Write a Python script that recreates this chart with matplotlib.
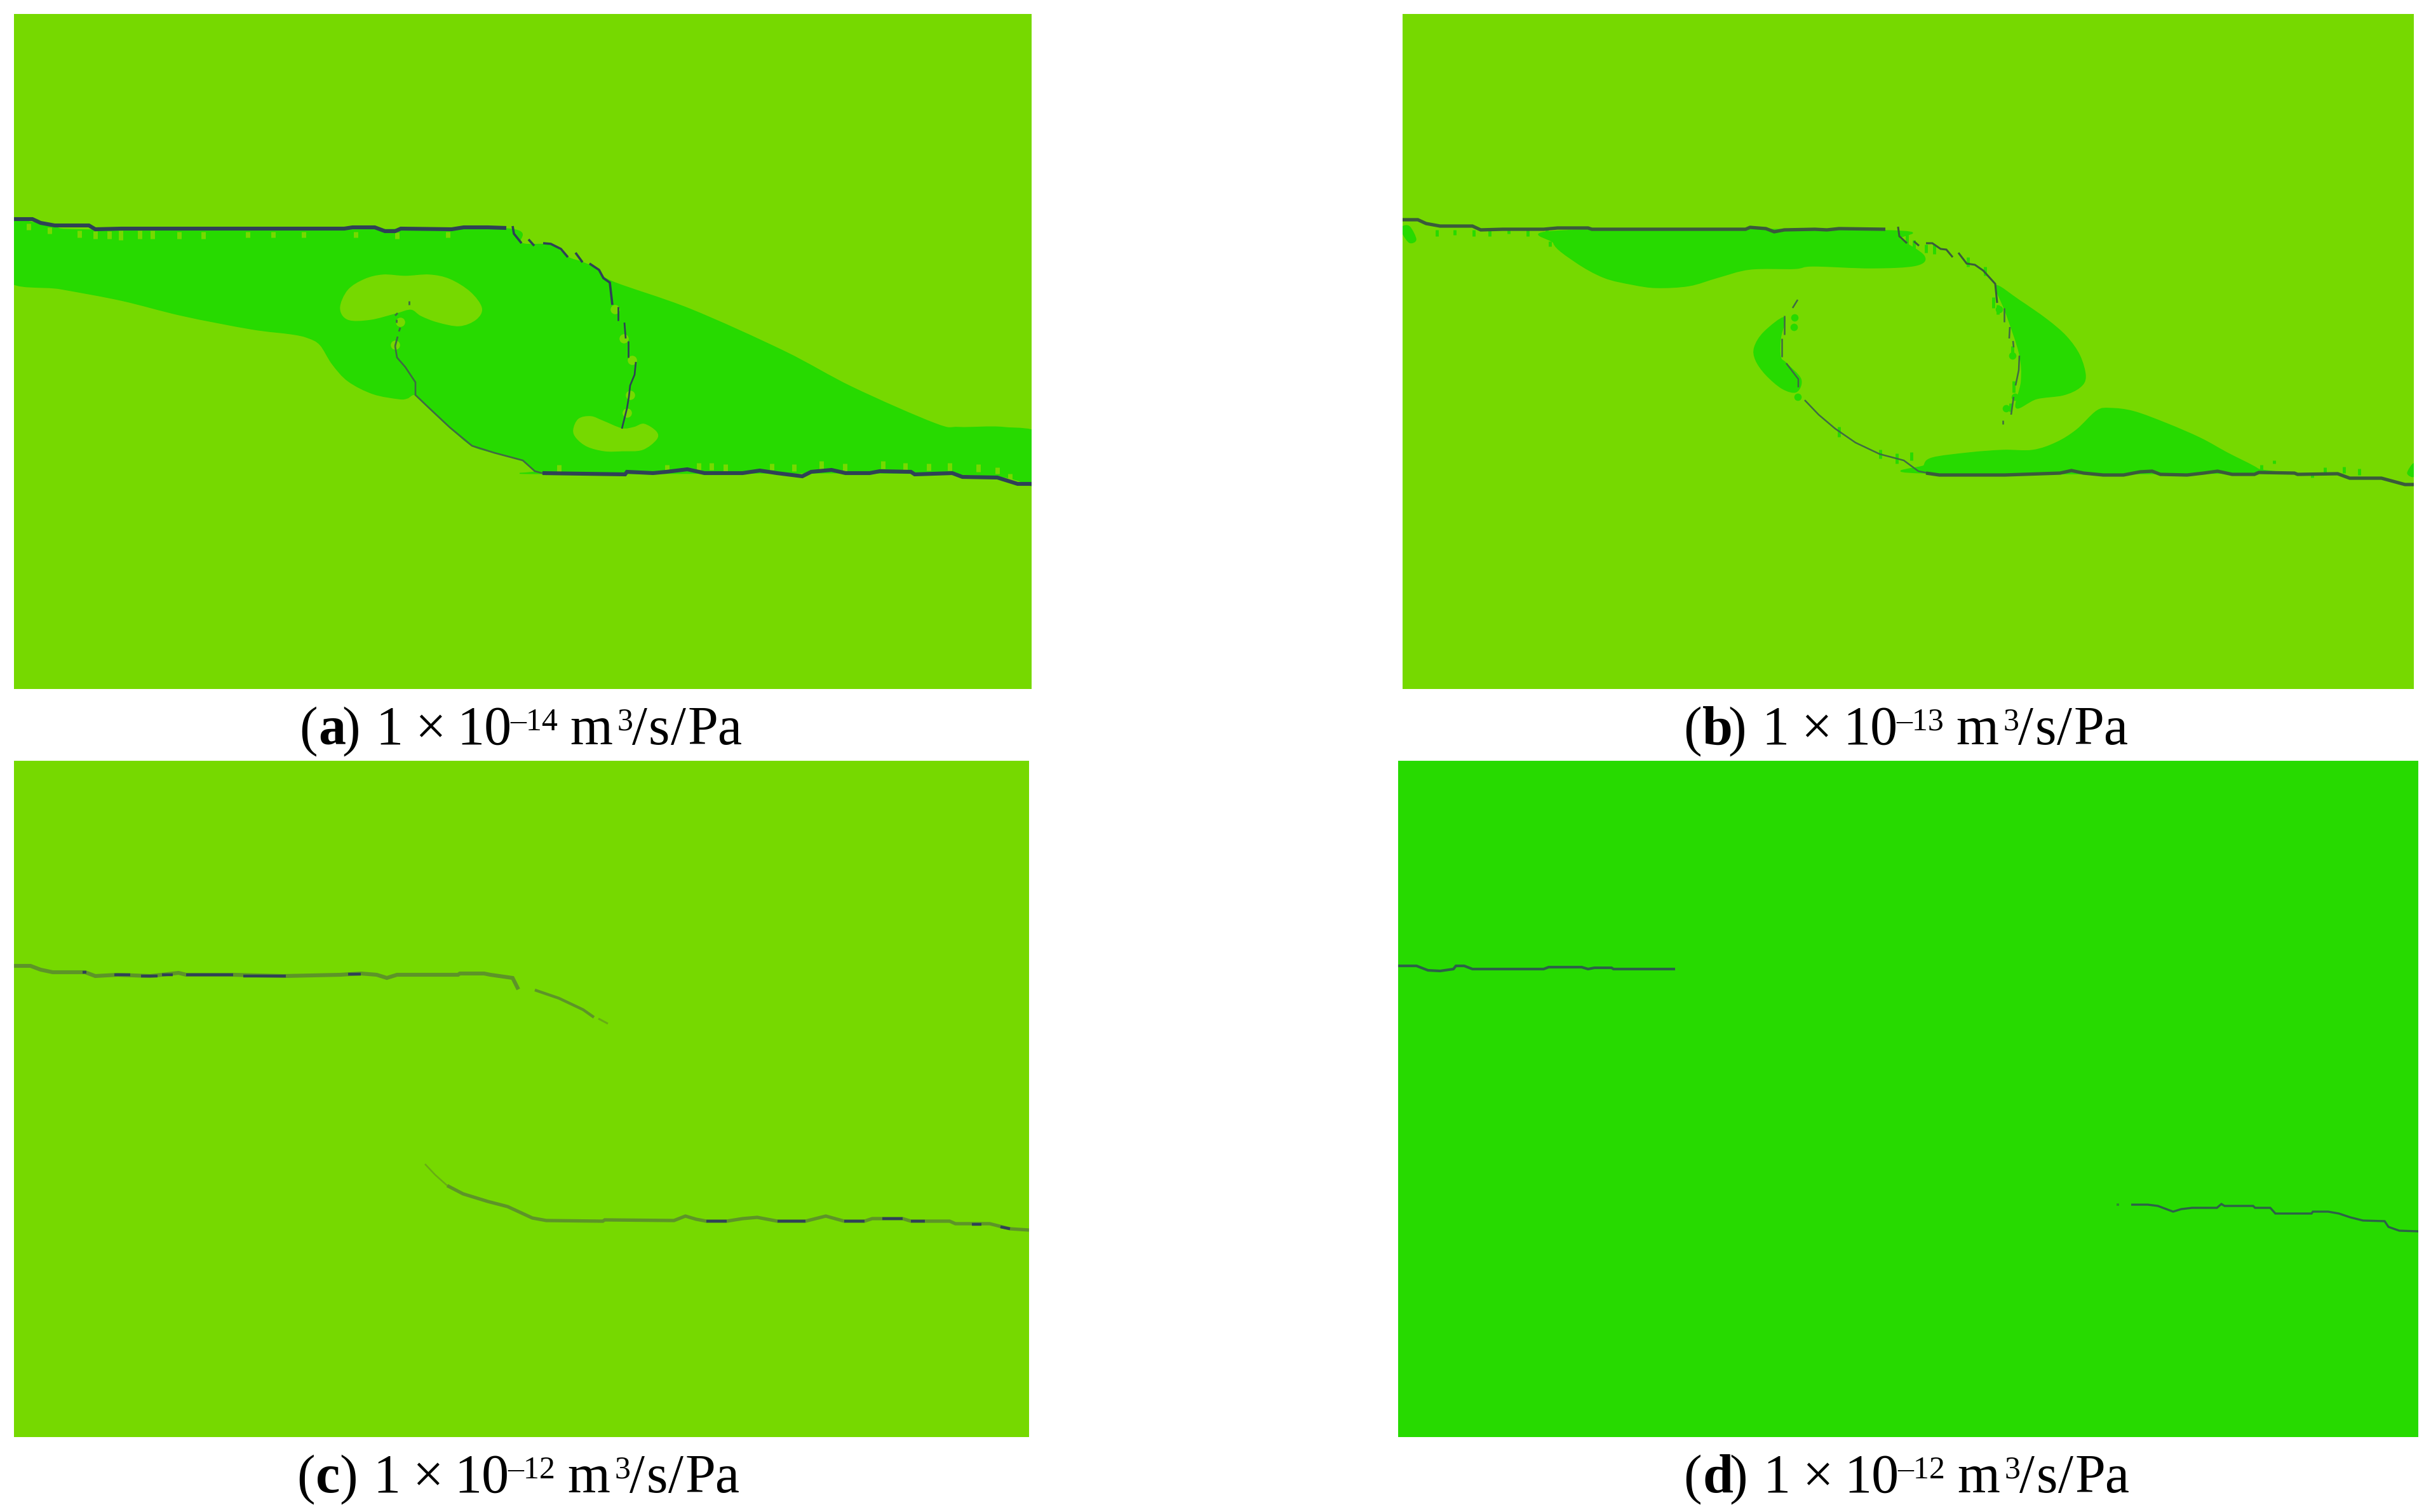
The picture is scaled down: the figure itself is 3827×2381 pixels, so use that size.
import numpy as np
import matplotlib
matplotlib.use('Agg')
import matplotlib.pyplot as plt
from matplotlib.patches import PathPatch
from matplotlib.path import Path

W, H = 3827, 2381
plt.rcParams['font.family'] = ['Liberation Serif', 'DejaVu Serif']

LIGHT = '#76d900'
DARK = '#27da00'
CRACK = '#2f4156'
OLIVE = '#5d9428'

# panel extents (image pixels): left, right, top, bottom
panel_a = (22, 1624, 22, 1085)
panel_b = (2208, 3800, 22, 1085)
panel_c = (22, 1620, 1198, 2263)
panel_d = (2201, 3807, 1198, 2263)

caption_letters = ['a', 'b', 'c', 'd']
caption_exps = ['14', '13', '12', '12']
caption_open = [471, 2650, 467, 2650]
caption_one = [591, 2773, 587, 2775]
caption_baselines = [1172, 1172, 2350, 2350]

# ---------- panel (a)
a_top = [(22,345),(51,345),(64,351),(86,355),(140,355),(150,361),(191,360),(255,360),(376,360),(542,360),
         (555,358),(590,358),(606,364),(622,364),(631,360),(711,361),(730,358),(768,358),(797,359)]
a_arc1 = [[(807,356),(809,368),(821,383)],
          [(832,377),(841,387)],
          [(855,383),(867,384),(883,392),(894,405)],
          [(906,398),(917,413)],
          [(928,415),(943,425),(950,438),(960,445),(964,480)]]
a_arc1_thin = [[(973,483),(973,505)],[(983,508),(985,533)],[(989,537),(989,563)],[(1001,570),(999,590),(992,607),(990,625),(987,643),(979,675)]]
a_arc2_dots = [[(644,474),(644,480)],[(626,493),(622,497)],[(624,503),(624,508)],[(630,516),(628,522)],[(626,530),(622,545)]]
a_arc2 = [(622,545),(625,563),(638,578),(654,602),(654,622),(676,643),(708,673),(743,702),(778,713),(823,725),(842,742),(861,747)]
a_bottom = [(854,745),(984,747),(987,743),(1028,745),(1049,743),(1082,739),(1109,745),(1169,745),(1196,741),(1223,745),
            (1263,750),(1277,743),(1309,740),(1331,745),(1369,745),(1385,742),(1434,743),(1440,747),(1499,745),(1515,751),(1570,752),(1602,762),(1624,762)]
a_region = [(10,350),(51,350),(86,358),(150,362),(542,362),(797,360),(821,383),(867,386),(894,405),(917,413),(943,425),(963,443),
            (1087,487),(1234,553),(1342,610),(1472,667),(1510,673),(1580,673),(1640,687),(1640,765),
            (1570,750),(1369,745),(861,746),(842,742),(823,725),(778,713),(743,702),(708,673),(676,643),(654,622),
            (641,627),(628,628),(587,620),(548,600),(523,573),(504,543),(485,532),(459,526),(395,518),(287,497),(191,473),(96,455),(10,440)]
a_lobe1 = [(536,485),(548,457),(574,440),(603,433),(638,435),(676,433),(708,440),(740,460),(758,485),(749,503),(723,513),(689,507),(663,497),(647,487),(623,493),(583,503),(548,503)]
a_lobe2 = [(903,677),(911,660),(930,656),(949,663),(979,675),(998,673),(1014,668),(1033,680),(1033,692),(1011,708),(979,710),(952,710),(925,703),(908,690)]
a_flecks_x = [45,78,125,150,172,190,220,240,282,320,390,430,478,560,625,705,
              880,1050,1100,1120,1142,1215,1250,1293,1330,1390,1425,1462,1495,1540,1570,1590]
a_flecks_y0 = [352,358,363,364,364,363,363,363,365,365,365,365,365,365,366,365,
               732,732,729,729,731,730,731,726,730,726,729,730,729,731,736,746]
a_flecks_y1 = [362,368,374,376,376,378,376,376,376,376,374,374,374,374,376,374,
               748,744,740,740,742,740,742,740,742,738,740,741,741,743,746,756]
a_blobs_x = [968,982,995,992,987,630,622]
a_blobs_y = [487,533,567,622,650,507,543]

# ---------- panel (b)
b_top = [(2208,346),(2232,346),(2245,352),(2267,356),(2318,356),(2331,362),(2366,361),(2430,361),(2452,359),(2500,359),
         (2506,361),(2748,361),(2755,358),(2780,360),(2793,365),(2809,362),(2857,361),(2876,362),(2895,360),(2968,361)]
b_arc1 = [[(2988,357),(2990,372),(3002,383)],
          [(3013,380),(3021,387)],
          [(3032,383),(3042,383),(3055,392),(3064,393),(3074,405)],
          [(3083,398),(3096,415),(3109,417),(3122,426),(3141,447),(3144,477)]]
b_arc1_thin = [[(3155,485),(3155,507)],[(3164,515),(3163,533)],[(3169,537),(3170,547)],[(3179,560),(3178,583),(3173,607)],[(3170,625),(3166,653)],[(3153,662),(3153,668)]]
b_arc2 = [[(2830,472),(2822,485)],[(2809,497),(2809,527)],[(2805,533),(2805,562)],
          [(2812,572),(2831,597),(2831,610)],[(2841,630),(2863,653),(2889,675),(2921,697),(2959,715),(2997,725),(3020,742),(3051,748)]]
b_bottom = [(3032,745),(3053,748),(3156,748),(3243,745),(3261,741),(3280,745),(3311,748),(3343,748),(3369,743),(3388,742),(3401,747),
            (3443,748),(3469,745),(3491,742),(3514,747),(3549,747),(3556,744),(3612,745),(3617,747),(3680,746),(3699,753),(3749,753),(3786,763),(3800,763)]
b_r1 = [(2446,383),(2468,363),(2968,363),(2991,377),(3029,403),(3016,418),(2946,422),(2854,419),(2825,423),(2755,424),(2704,437),(2659,450),(2608,453),(2570,448),(2525,437),(2481,413)]
b_r0 = [(2208,357),(2219,357),(2229,377),(2219,382),(2208,367)]
b_r2 = [(2809,500),(2777,523),(2762,547),(2764,567),(2780,590),(2806,612),(2828,617),(2835,597),(2812,572),(2803,562),(2803,533)]
b_r3 = [(3142,450),(3179,473),(3222,503),(3253,530),(3274,560),(3283,593),(3274,610),(3248,622),(3206,628),(3174,642),(3182,600),(3179,557),(3158,493)]
b_r4 = [(3029,733),(3042,721),(3100,713),(3153,709),(3200,709),(3237,697),(3269,677),(3301,647),(3322,643),(3359,648),(3411,667),(3464,690),(3506,713),(3554,738),(3549,745),(3032,745)]
b_r5 = [(3790,745),(3800,730),(3800,750)]
b_dark_flecks_x = [2262,2290,2320,2345,2375,2405,2435,2470,2440,3002,3013,3032,3045,3098,3125,2895,2960,2986,3009,3138,3145,3168,3170,3165,3560,3580,3640,3660,3690,3714]
b_dark_flecks_y0 = [362,362,362,362,362,362,362,362,380,365,378,385,385,405,420,672,708,714,712,468,480,545,600,635,732,725,745,736,735,738]
b_dark_flecks_y1 = [372,370,372,372,368,372,372,372,388,385,392,398,400,420,434,688,722,730,725,485,495,560,618,648,740,730,752,748,745,748]
b_blobs_x = [2825,2824,2830,3168,3172,3158,3147]
b_blobs_y = [500,515,625,560,625,643,487]

# ---------- panel (c)
c_top = [(22,1521),(48,1521),(64,1527),(83,1531),(134,1531),(150,1537),(185,1535),(236,1537),(255,1535),(281,1532),(293,1535),
         (367,1535),(446,1537),(536,1535),(568,1533),(593,1535),(609,1540),(625,1535),(721,1535),(724,1533),(762,1533),(772,1535),(807,1540),(816,1558)]
c_top_tail = [(842,1559),(880,1572),(918,1590),(935,1602)]
c_top_faint = [(942,1604),(957,1612)]
c_bottom_faint = [(669,1833),(685,1850),(704,1867)]
c_bottom = [(704,1867),(729,1880),(768,1892),(799,1900),(838,1918),(860,1922),(949,1923),(952,1921),(1061,1922),(1079,1915),(1096,1920),
            (1112,1923),(1144,1923),(1169,1919),(1192,1917),(1208,1920),(1224,1923),(1268,1923),(1300,1915),(1329,1923),(1361,1923),(1373,1919),
            (1421,1919),(1434,1923),(1495,1923),(1504,1927),(1558,1927),(1590,1935),(1620,1937)]
c_dark = [[(130,1531),(136,1531)],[(180,1535),(205,1535)],[(222,1537),(248,1537)],[(255,1535),(272,1535)],[(293,1535),(367,1535)],[(383,1537),(450,1537)],
          [(548,1534),(568,1534)],[(1112,1923),(1144,1923)],[(1224,1923),(1268,1923)],[(1329,1923),(1361,1923)],[(1389,1919),(1421,1919)],[(1434,1923),(1456,1923)],[(1530,1928),(1545,1928)],[(1575,1932),(1590,1935)]]

# ---------- panel (d)
d_top = [(2201,1521),(2230,1521),(2248,1528),(2267,1529),(2288,1526),(2292,1521),(2305,1521),(2318,1526),(2430,1526),(2438,1523),
         (2490,1523),(2500,1526),(2510,1524),(2537,1524),(2540,1526),(2637,1526)]
d_bottom = [(3355,1897),(3381,1897),(3397,1899),(3421,1908),(3434,1904),(3451,1902),(3490,1902),(3497,1896),(3502,1899),(3547,1899),(3550,1902),
            (3574,1902),(3582,1911),(3639,1911),(3641,1908),(3665,1908),(3682,1911),(3700,1917),(3720,1922),(3754,1923),(3760,1932),(3777,1938),(3807,1939)]
d_dot = [(3332,1897),(3336,1897)]


def px_axes(fig, ext, bg):
    l, r, t, b = ext
    ax = fig.add_axes([l / W, 1 - b / H, (r - l) / W, (b - t) / H])
    ax.set_xlim(l, r)
    ax.set_ylim(b, t)
    ax.axis('off')
    ax.add_patch(plt.Rectangle((l, t), r - l, b - t, color=bg, lw=0, zorder=0))
    return ax


def poly(ax, pts, color, z=1):
    """Closed outline drawn as Catmull-Rom bezier through the read points."""
    p = np.array(pts, float)
    n = len(p)
    verts = [p[0]]
    codes = [Path.MOVETO]
    for i in range(n):
        p0, p1, p2, p3 = p[i - 1], p[i], p[(i + 1) % n], p[(i + 2) % n]
        verts += [p1 + (p2 - p0) / 6, p2 - (p3 - p1) / 6, p2]
        codes += [Path.CURVE4] * 3
    ax.add_patch(PathPatch(Path(verts, codes), facecolor=color, edgecolor=color, lw=1, zorder=z))


def line(ax, pts, lw, color=CRACK, z=4):
    p = np.array(pts)
    ax.plot(p[:, 0], p[:, 1], color=color, lw=lw, solid_joinstyle='miter', solid_capstyle='butt', zorder=z)


fig = plt.figure(figsize=(W / 100, H / 100), dpi=100, facecolor='white')

# (a)
ax = px_axes(fig, panel_a, LIGHT)
poly(ax, a_region, DARK)
poly(ax, a_lobe1, LIGHT, 2)
poly(ax, a_lobe2, LIGHT, 2)
ax.vlines(a_flecks_x, a_flecks_y0, a_flecks_y1, color=LIGHT, lw=5, zorder=3)
ax.scatter(a_blobs_x, a_blobs_y, s=110, color=LIGHT, marker='o', lw=0, zorder=3)
line(ax, a_top, 4.4)
for s in a_arc1:
    line(ax, s, 2.6)
for s in a_arc1_thin:
    line(ax, s, 1.9)
for s in a_arc2_dots:
    line(ax, s, 2.0, '#3f6a44')
line(ax, a_arc2, 1.9, '#3f6a44')
line(ax, a_bottom, 4.4)

# (b)
ax = px_axes(fig, panel_b, LIGHT)
for r in (b_r0, b_r1, b_r2, b_r3, b_r4, b_r5):
    poly(ax, r, DARK)
ax.vlines(b_dark_flecks_x, b_dark_flecks_y0, b_dark_flecks_y1, color=DARK, lw=3.5, zorder=2)
ax.scatter(b_blobs_x, b_blobs_y, s=70, color=DARK, marker='o', lw=0, zorder=2)
line(ax, b_top, 3.8, '#3a5a3c')
for s in b_arc1:
    line(ax, s, 2.2, '#3a5a3c')
for s in b_arc1_thin:
    line(ax, s, 1.8, '#3f6a44')
for s in b_arc2:
    line(ax, s, 1.8, '#3f6a44')
line(ax, b_bottom, 3.8, '#3a5a3c')

# (c)
ax = px_axes(fig, panel_c, LIGHT)
line(ax, c_top, 4.4, OLIVE)
line(ax, c_top_tail, 3.2, OLIVE)
line(ax, c_top_faint, 2.2, '#68ad14')
line(ax, c_bottom_faint, 1.8, '#68ad14')
line(ax, c_bottom, 3.8, OLIVE)
for s in c_dark:
    line(ax, s, 3.2, CRACK, 5)

# (d)
ax = px_axes(fig, panel_d, DARK)
line(ax, d_top, 3.0, '#2d6148')
line(ax, d_bottom, 2.4, '#2d6148')
line(ax, d_dot, 2.6, '#2d8a30')


# captions: pieces placed at the offsets measured from the "1" of each caption
def put(x, y, s, size=62, **kw):
    fig.text(x / W, 1 - y / H, s, fontsize=size, ha=kw.pop('ha', 'left'), va='baseline', color='black', **kw)


for let, exp, x0, one, by in zip(caption_letters, caption_exps, caption_open, caption_one, caption_baselines):
    put(x0, by, '(')
    put(x0 + 30, by, let, weight='bold')
    put(one - 24, by, ')', ha='right')
    put(one, by, '1')
    put(one + 62, by, '×')
    put(one + 128, by, '10')
    put(one + 212, by - 22, f'\u2013{exp}', size=36)
    put(one + 306, by, 'm')
    put(one + 380, by - 22, '3', size=36)
    put(one + 404, by, '/')
    put(one + 430, by, 's')
    put(one + 465, by, '/')
    put(one + 492, by, 'Pa')

fig.savefig('out.png', dpi=100, facecolor='white')
